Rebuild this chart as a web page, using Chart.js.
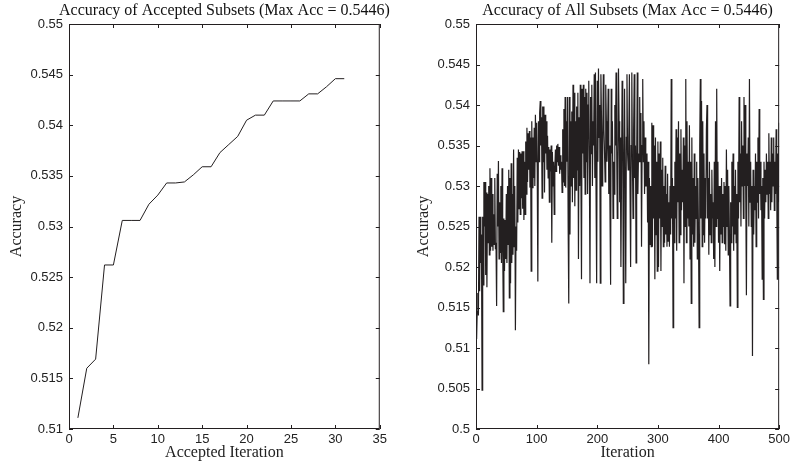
<!DOCTYPE html>
<html>
<head>
<meta charset="utf-8">
<script src="https://cdn.jsdelivr.net/npm/chart.js@4/dist/chart.umd.min.js"></script>
<style>
  html, body { margin: 0; padding: 0; background: #fff; }
  #wrap { position: relative; width: 793px; height: 469px; }
  .box { position: absolute; top: 0; height: 469px; }
  #leftBox { left: 0; width: 390px; }
  #rightBox { left: 400px; width: 393px; }
</style>
</head>
<body>
<div id="wrap">
  <div class="box" id="leftBox"><canvas id="accChart"></canvas></div>
  <div class="box" id="rightBox"><canvas id="allChart"></canvas></div>
</div>
<script>
// data
// ----------------------------------------------------
const accTitle = "Accuracy of Accepted Subsets (Max Acc = 0.5446)";
const allTitle = "Accuracy of All Subsets (Max Acc = 0.5446)";

// accepted subsets, iteration 1..31
const acceptedAcc = [
  0.5111, 0.5160, 0.5169, 0.5262, 0.5262, 0.5306, 0.5306, 0.5306, 0.5322, 0.5331,
  0.5343, 0.5343, 0.5344, 0.5351, 0.5359, 0.5359, 0.5373, 0.5381, 0.5389, 0.5405,
  0.5410, 0.5410, 0.5424, 0.5424, 0.5424, 0.5424, 0.5431, 0.5431, 0.5438, 0.5446,
  0.5446
];

// all subsets, iteration 1..500 (10 per row)
const allAcc = [
  0.5111, 0.5145, 0.5168, 0.5140, 0.5262, 0.5170, 0.5262, 0.5205, 0.5240, 0.5048,
  0.5262, 0.5178, 0.5305, 0.5250, 0.5305, 0.5190, 0.5292, 0.5175, 0.5290, 0.5230,
  0.5300, 0.5215, 0.5322, 0.5220, 0.5310, 0.5225, 0.5290, 0.5220, 0.5265, 0.5228,
  0.5310, 0.5222, 0.5230, 0.5152, 0.5315, 0.5250, 0.5331, 0.5210, 0.5280, 0.5218,
  0.5300, 0.5205, 0.5322, 0.5230, 0.5145, 0.5260, 0.5195, 0.5258, 0.5210, 0.5290,
  0.5205, 0.5300, 0.5228, 0.5320, 0.5162, 0.5310, 0.5180, 0.5328, 0.5205, 0.5290,
  0.5215, 0.5345, 0.5225, 0.5300, 0.5122, 0.5250, 0.5220, 0.5335, 0.5255, 0.5345,
  0.5272, 0.5342, 0.5265, 0.5340, 0.5285, 0.5343, 0.5272, 0.5343, 0.5258, 0.5330,
  0.5265, 0.5355, 0.5290, 0.5372, 0.5305, 0.5365, 0.5320, 0.5368, 0.5298, 0.5360,
  0.5195, 0.5380, 0.5298, 0.5360, 0.5310, 0.5372, 0.5300, 0.5388, 0.5330, 0.5378,
  0.5318, 0.5182, 0.5380, 0.5330, 0.5390, 0.5405, 0.5350, 0.5385, 0.5285, 0.5398,
  0.5330, 0.5398, 0.5292, 0.5388, 0.5340, 0.5380, 0.5320, 0.5362, 0.5310, 0.5348,
  0.5280, 0.5345, 0.5318, 0.5350, 0.5230, 0.5342, 0.5300, 0.5330, 0.5265, 0.5322,
  0.5345, 0.5318, 0.5350, 0.5330, 0.5352, 0.5325, 0.5348, 0.5315, 0.5338, 0.5320,
  0.5330, 0.5292, 0.5370, 0.5305, 0.5395, 0.5300, 0.5410, 0.5298, 0.5380, 0.5330,
  0.5410, 0.5250, 0.5155, 0.5410, 0.5240, 0.5380, 0.5300, 0.5392, 0.5280, 0.5425,
  0.5310, 0.5415, 0.5275, 0.5380, 0.5295, 0.5398, 0.5320, 0.5415, 0.5210, 0.5385,
  0.5300, 0.5425, 0.5320, 0.5185, 0.5420, 0.5340, 0.5425, 0.5310, 0.5410, 0.5290,
  0.5420, 0.5330, 0.5415, 0.5290, 0.5400, 0.5430, 0.5320, 0.5180, 0.5410, 0.5340,
  0.5425, 0.5300, 0.5380, 0.5350, 0.5438, 0.5310, 0.5440, 0.5290, 0.5180, 0.5430,
  0.5330, 0.5445, 0.5360, 0.5400, 0.5180, 0.5438, 0.5380, 0.5300, 0.5350, 0.5438,
  0.5370, 0.5340, 0.5305, 0.5425, 0.5380, 0.5330, 0.5360, 0.5420, 0.5290, 0.5350,
  0.5270, 0.5178, 0.5420, 0.5340, 0.5380, 0.5260, 0.5330, 0.5290, 0.5400, 0.5350,
  0.5440, 0.5350, 0.5260, 0.5330, 0.5445, 0.5380, 0.5280, 0.5360, 0.5200, 0.5310,
  0.5430, 0.5370, 0.5155, 0.5330, 0.5420, 0.5300, 0.5180, 0.5360, 0.5438, 0.5340,
  0.5320, 0.5360, 0.5438, 0.5300, 0.5200, 0.5350, 0.5440, 0.5330, 0.5260, 0.5370,
  0.5438, 0.5310, 0.5350, 0.5205, 0.5330, 0.5440, 0.5290, 0.5340, 0.5330, 0.5410,
  0.5330, 0.5390, 0.5225, 0.5350, 0.5432, 0.5330, 0.5380, 0.5290, 0.5360, 0.5300,
  0.5300, 0.5340, 0.5255, 0.5330, 0.5080, 0.5310, 0.5228, 0.5300, 0.5225, 0.5378,
  0.5225, 0.5375, 0.5260, 0.5350, 0.5185, 0.5360, 0.5240, 0.5330, 0.5195, 0.5355,
  0.5200, 0.5340, 0.5260, 0.5355, 0.5195, 0.5320, 0.5250, 0.5335, 0.5225, 0.5300,
  0.5230, 0.5325, 0.5240, 0.5290, 0.5225, 0.5315, 0.5232, 0.5280, 0.5225, 0.5300,
  0.5240, 0.5432, 0.5260, 0.5310, 0.5125, 0.5300, 0.5230, 0.5330, 0.5260, 0.5370,
  0.5220, 0.5360, 0.5280, 0.5380, 0.5230, 0.5340, 0.5240, 0.5370, 0.5270, 0.5320,
  0.5280, 0.5360, 0.5180, 0.5350, 0.5250, 0.5432, 0.5230, 0.5380, 0.5260, 0.5330,
  0.5250, 0.5375, 0.5210, 0.5330, 0.5155, 0.5360, 0.5240, 0.5310, 0.5225, 0.5340,
  0.5230, 0.5300, 0.5260, 0.5330, 0.5210, 0.5310, 0.5240, 0.5125, 0.5350, 0.5432,
  0.5260, 0.5405, 0.5225, 0.5380, 0.5240, 0.5340, 0.5230, 0.5310, 0.5260, 0.5370,
  0.5400, 0.5260, 0.5310, 0.5215, 0.5330, 0.5240, 0.5290, 0.5230, 0.5320, 0.5260,
  0.5280, 0.5210, 0.5330, 0.5200, 0.5380, 0.5250, 0.5420, 0.5260, 0.5330, 0.5230,
  0.5300, 0.5195, 0.5300, 0.5240, 0.5310, 0.5230, 0.5290, 0.5250, 0.5305, 0.5228,
  0.5300, 0.5220, 0.5345, 0.5250, 0.5320, 0.5215, 0.5300, 0.5240, 0.5152, 0.5280,
  0.5230, 0.5330, 0.5250, 0.5340, 0.5220, 0.5300, 0.5240, 0.5320, 0.5230, 0.5290,
  0.5150, 0.5330, 0.5260, 0.5410, 0.5280, 0.5340, 0.5250, 0.5380, 0.5300, 0.5350,
  0.5260, 0.5410, 0.5300, 0.5400, 0.5280, 0.5165, 0.5340, 0.5300, 0.5360, 0.5250,
  0.5432, 0.5280, 0.5330, 0.5250, 0.5300, 0.5090, 0.5320, 0.5240, 0.5300, 0.5270,
  0.5340, 0.5225, 0.5330, 0.5280, 0.5360, 0.5260, 0.5395, 0.5290, 0.5330, 0.5270,
  0.5300, 0.5185, 0.5310, 0.5160, 0.5330, 0.5260, 0.5320, 0.5280, 0.5340, 0.5290,
  0.5330, 0.5260, 0.5365, 0.5290, 0.5330, 0.5270, 0.5360, 0.5280, 0.5340, 0.5300,
  0.5360, 0.5270, 0.5330, 0.5290, 0.5370, 0.5300, 0.5185, 0.5340, 0.5280, 0.5378
];

// tick values
const accXTicks = [0, 5, 10, 15, 20, 25, 30, 35];
const accYTicks = [0.51, 0.515, 0.52, 0.525, 0.53, 0.535, 0.54, 0.545, 0.55];
const allXTicks = [0, 100, 200, 300, 400, 500];
const allYTicks = [0.5, 0.505, 0.51, 0.515, 0.52, 0.525, 0.53, 0.535, 0.54, 0.545, 0.55];

const LINE = "#231f20";
const SANS = "'Liberation Sans', Arial, sans-serif";
const SERIF = "'Liberation Serif', 'Times New Roman', serif";

// matlab-ish box, inward ticks and title centred on the plot area
const matlabBox = {
  id: "matlabBox",
  afterDraw(chart, args, opts) {
    const { ctx, chartArea: a, scales } = chart;
    ctx.save();
    ctx.strokeStyle = LINE;
    ctx.lineWidth = 1;
    ctx.strokeRect(a.left + 0.5, a.top + 0.5, a.right - a.left - 1, a.bottom - a.top - 1);
    ctx.beginPath();
    scales.x.ticks.forEach((t) => {
      const px = Math.round(scales.x.getPixelForValue(t.value)) + 0.5;
      ctx.moveTo(px, a.bottom); ctx.lineTo(px, a.bottom - 4);
      ctx.moveTo(px, a.top); ctx.lineTo(px, a.top + 4);
    });
    scales.y.ticks.forEach((t) => {
      const py = Math.round(scales.y.getPixelForValue(t.value)) + 0.5;
      ctx.moveTo(a.left, py); ctx.lineTo(a.left + 4, py);
      ctx.moveTo(a.right, py); ctx.lineTo(a.right - 4, py);
    });
    ctx.stroke();
    ctx.fillStyle = "#111";
    ctx.font = "16px " + SERIF;
    ctx.textAlign = "center";
    ctx.textBaseline = "bottom";
    ctx.fillText(opts.text, (a.left + a.right) / 2, a.top - 5);
    ctx.restore();
  },
};

function fmtTick(v) {
  return String(+v.toFixed(3));
}

function makeChart(el, cfg) {
  return new Chart(document.getElementById(el), {
    type: "line",
    data: {
      datasets: [
        {
          data: cfg.values.map((v, i) => ({ x: i + 1, y: v })),
          borderColor: LINE,
          borderWidth: cfg.lw,
          pointRadius: 0,
          tension: 0,
        },
      ],
    },
    options: {
      responsive: true,
      maintainAspectRatio: false,
      animation: false,
      layout: { padding: { top: 24, right: 10, left: 0, bottom: 7 } },
      plugins: {
        legend: { display: false },
        tooltip: { enabled: false },
        matlabBox: { text: cfg.title },
      },
      scales: {
        x: {
          type: "linear",
          min: cfg.xTicks[0],
          max: cfg.xTicks[cfg.xTicks.length - 1],
          afterBuildTicks: (s) => { s.ticks = cfg.xTicks.map((v) => ({ value: v })); },
          afterFit: (s) => { s.height = 33; },
          grid: { display: false, drawTicks: false },
          border: { display: false },
          ticks: { color: "#222", font: { family: SANS, size: 13 }, padding: 3, maxRotation: 0 },
          title: { display: true, text: cfg.xLabel, color: "#222", font: { family: SERIF, size: 16 }, padding: 0 },
        },
        y: {
          min: cfg.yTicks[0],
          max: cfg.yTicks[cfg.yTicks.length - 1],
          afterBuildTicks: (s) => { s.ticks = cfg.yTicks.map((v) => ({ value: v })); },
          afterFit: (s) => { s.width = cfg.yWidth; },
          grid: { display: false, drawTicks: false },
          border: { display: false },
          ticks: { color: "#222", font: { family: SANS, size: 13 }, padding: 6, callback: fmtTick },
          title: { display: true, text: "Accuracy", color: "#222", font: { family: SERIF, size: 16 }, padding: { top: cfg.yTitlePad, bottom: 0 } },
        },
      },
    },
    plugins: [matlabBox],
  });
}

makeChart("accChart", {
  values: acceptedAcc, title: accTitle, xLabel: "Accepted Iteration",
  xTicks: accXTicks, yTicks: accYTicks, yWidth: 69, yTitlePad: 7, lw: 1,
});
makeChart("allChart", {
  values: allAcc, title: allTitle, xLabel: "Iteration",
  xTicks: allXTicks, yTicks: allYTicks, yWidth: 76, yTitlePad: 14, lw: 1.2,
});
</script>
</body>
</html>
